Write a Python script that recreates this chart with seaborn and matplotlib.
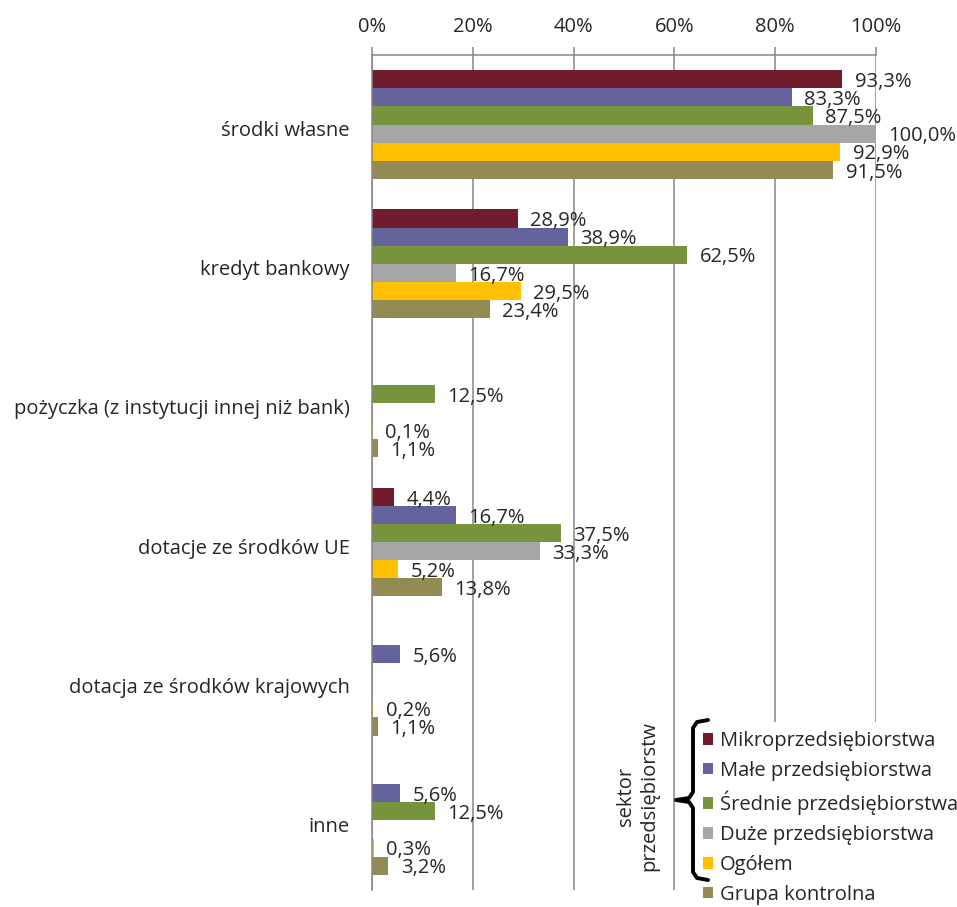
import numpy as np
import pandas as pd
import matplotlib
matplotlib.use("Agg")
import matplotlib.pyplot as plt
import matplotlib.transforms as mtransforms
from matplotlib.lines import Line2D
from matplotlib.patches import Patch, Rectangle
import seaborn as sns

# dane (w %)
kategorie = ["środki własne", "kredyt bankowy", "pożyczka (z instytucji innej niż bank)",
             "dotacje ze środków UE", "dotacja ze środków krajowych", "inne"]
sektory = ["Mikroprzedsiębiorstwa", "Małe przedsiębiorstwa", "Średnie przedsiębiorstwa",
           "Duże przedsiębiorstwa", "Ogółem", "Grupa kontrolna"]
mikro = [93.3, 28.9, np.nan, 4.4, np.nan, np.nan]
male = [83.3, 38.9, np.nan, 16.7, 5.6, 5.6]
srednie = [87.5, 62.5, 12.5, 37.5, np.nan, 12.5]
duze = [100.0, 16.7, np.nan, 33.3, np.nan, np.nan]
ogolem = [92.9, 29.5, 0.1, 5.2, 0.2, 0.3]
grupa = [91.5, 23.4, 1.1, 13.8, 1.1, 3.2]
kolory = ["#701C2D", "#65639B", "#77933C", "#A6A6A6", "#FFC000", "#948A54"]

rows = []
for sektor, wartosci in zip(sektory, [mikro, male, srednie, duze, ogolem, grupa]):
    for kat, w in zip(kategorie, wartosci):
        rows.append({"kategoria": kat, "sektor": sektor, "wartosc": w})
df = pd.DataFrame(rows)

sns.set_style("white")
plt.rcParams["font.family"] = ["Open Sans", "DejaVu Sans"]
FS = 14.5
GRAY = "#868686"
W, H = 957, 907

fig = plt.figure(figsize=(W / 100, H / 100), dpi=100)
ax = fig.add_axes([372 / W, 1 - 890 / H, (876 - 372) / W, (890 - 55) / H])

sns.barplot(data=df, y="kategoria", x="wartosc", hue="sektor", order=kategorie,
            hue_order=sektory, palette=kolory, orient="h", width=0.78,
            saturation=1, errorbar=None, legend=False, linewidth=0, ax=ax)

ax.set_xlim(0, 100)
ax.set_ylim(5.5, -0.5)
ax.set_xlabel("")
ax.set_ylabel("")
ax.xaxis.tick_top()
ax.set_xticks(range(0, 101, 20))
ax.set_xticklabels([f"{v}%" for v in range(0, 101, 20)], fontsize=FS)
ax.tick_params(axis="x", length=6, width=1.1, color=GRAY, pad=7)
ax.tick_params(axis="y", which="major", length=0, pad=16, labelsize=FS)
ax.set_yticks(np.arange(-0.5, 5.6, 1), minor=True)
ax.tick_params(axis="y", which="minor", length=6, width=1.1, color=GRAY)
ax.grid(axis="x", color=GRAY, linewidth=1.1)
ax.set_axisbelow(True)
for side in ["right", "bottom"]:
    ax.spines[side].set_visible(False)
for side in ["top", "left"]:
    ax.spines[side].set_color(GRAY)
    ax.spines[side].set_linewidth(1.1)

# nazwy kategorii nieco niżej, jak w oryginale
shift = mtransforms.ScaledTranslation(0, -4 / 100, fig.dpi_scale_trans)
for lbl in ax.get_yticklabels():
    lbl.set_transform(lbl.get_transform() + shift)

# etykiety danych
for cont in ax.containers:
    for bar in cont:
        w = bar.get_width()
        if not np.isfinite(w) or w <= 0:
            continue
        yc = bar.get_y() + bar.get_height() / 2
        ax.annotate(f"{w:.1f}%".replace(".", ","), (w, yc), xytext=(9, -2),
                    textcoords="offset points", ha="left", va="center",
                    fontsize=FS, clip_on=False)

# tło legendy
fig.patches.append(Rectangle((680 / W, 0), 1 - 680 / W, 1 - 722 / H,
                             transform=fig.transFigure, facecolor="white",
                             edgecolor="none", zorder=1))

handles = [Patch(facecolor=c, edgecolor="none") for c in kolory]
fig.legend(handles, sektory, loc="upper left", bbox_to_anchor=(703 / W, 1 - 731 / H),
           frameon=False, fontsize=FS, handlelength=0.5, handleheight=0.5,
           handletextpad=0.35, labelspacing=0.49, borderpad=0, borderaxespad=0)

# klamra
bx = [708, 697, 693, 693, 689, 676, 689, 693, 693, 697, 708]
by = [720, 722, 728, 792, 798, 800, 802, 808, 872, 878, 880]
fig.add_artist(Line2D([x / W for x in bx], [1 - y / H for y in by],
                      transform=fig.transFigure, color="black", linewidth=2.8,
                      solid_joinstyle="round", solid_capstyle="round", zorder=3))
fig.text(638 / W, 1 - 796 / H, "sektor\nprzedsiębiorstw", rotation=90,
         ha="center", va="center", multialignment="center", fontsize=FS,
         linespacing=1.2, zorder=3)

fig.savefig("out.png", dpi=100)
